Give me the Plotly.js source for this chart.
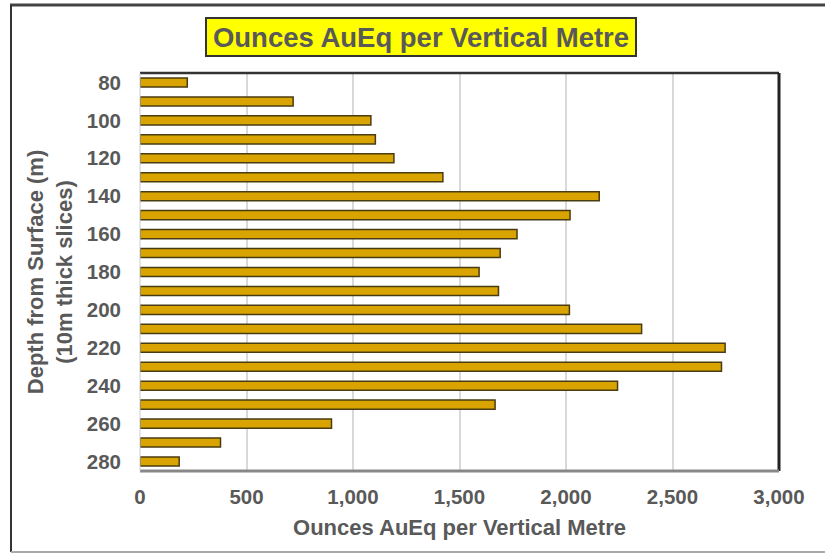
<!DOCTYPE html>
<html>
<head>
<meta charset="utf-8">
<script src="https://cdn.plot.ly/plotly-3.0.1.min.js"></script>
<style>html,body{margin:0;padding:0;background:#fff;}#chart{width:825px;height:554px;}</style>
</head>
<body>
<div id="chart"></div>
<script>
// Data
const depths = [80, 90, 100, 110, 120, 130, 140, 150, 160, 170, 180, 190, 200, 210, 220, 230, 240, 250, 260, 270, 280];
const ouncesPerMetre = [222, 719, 1084, 1105, 1192, 1422, 2156, 2019, 1770, 1691, 1592, 1683, 2016, 2355, 2747, 2730, 2242, 1667, 899, 378, 184];
const depthTicks = [80, 100, 120, 140, 160, 180, 200, 220, 240, 260, 280];
const xTicks = [0, 500, 1000, 1500, 2000, 2500, 3000];
const titleText = "Ounces AuEq per Vertical Metre";
const xTitle = "Ounces AuEq per Vertical Metre";
const yTitle = "Depth from Surface (m)<br>(10m thick slices)";

const FONT = "Liberation Sans, Arial, sans-serif";
const GREY = "#595959";

// pixel helpers (plot area: left 140, right 779, top 73, bottom 471)
const L = 140, R = 779, T = 73, B = 471;
const px = x => (x - L) / (R - L);
const py = y => (B - y) / (B - T);

const trace = {
  type: "bar",
  orientation: "h",
  x: ouncesPerMetre,
  y: depths,
  marker: { color: "#d9a400", line: { color: "#4a3c12", width: 1.5 } },
  hoverinfo: "x+y"
};

const layout = {
  width: 825,
  height: 554,
  margin: { l: L, r: 825 - R, t: T, b: 554 - B, pad: 0 },
  paper_bgcolor: "#ffffff",
  plot_bgcolor: "#ffffff",
  showlegend: false,
  bargap: 0.52,
  font: { family: FONT, color: GREY },
  xaxis: {
    range: [0, 3000],
    tickvals: xTicks,
    tickformat: ",",
    showgrid: true,
    gridcolor: "#d9d9d9",
    gridwidth: 2,
    zeroline: false,
    showline: false,
    ticks: "",
    ticklabelstandoff: 11,
    tickfont: { family: FONT, size: 20.5, color: GREY, weight: "bold" },
    title: { text: xTitle, font: { family: FONT, size: 22, color: GREY, weight: "bold" }, standoff: 13 }
  },
  yaxis: {
    range: [285, 75],
    tickvals: depthTicks,
    showgrid: false,
    zeroline: false,
    showline: false,
    ticks: "",
    ticklabelstandoff: 18,
    tickfont: { family: FONT, size: 20.5, color: GREY, weight: "bold" },
    title: { text: yTitle, font: { family: FONT, size: 22, color: GREY, weight: "bold" }, standoff: 8 }
  },
  annotations: [{
    xref: "paper", yref: "paper",
    x: px(421), y: py(37),
    xanchor: "center", yanchor: "middle",
    text: "<b>" + titleText + "</b>",
    showarrow: false,
    font: { family: FONT, size: 27.5, color: GREY },
    bgcolor: "#ffff00",
    bordercolor: "#333333",
    borderwidth: 2,
    borderpad: 2,
    width: 424,
    height: 32
  }],
  shapes: [
    // plot area frame
    { type: "line", xref: "paper", yref: "paper", x0: 0, x1: 1, y0: 1, y1: 1, line: { color: "#333333", width: 2.5 } },
    { type: "line", xref: "paper", yref: "paper", x0: 1, x1: 1, y0: 0, y1: 1, line: { color: "#222222", width: 3 } },
    { type: "line", xref: "paper", yref: "paper", x0: 0, x1: 1, y0: 0, y1: 0, line: { color: "#888888", width: 3 } },
    { type: "line", xref: "paper", yref: "paper", x0: 0, x1: 0, y0: 0, y1: 1, line: { color: "#cccccc", width: 1 } },
    // outer figure border
    { type: "line", xref: "paper", yref: "paper", x0: px(10), x1: px(825), y0: py(5), y1: py(5), line: { color: "#444444", width: 3 } },
    { type: "line", xref: "paper", yref: "paper", x0: px(11), x1: px(11), y0: py(5), y1: py(552), line: { color: "#333333", width: 2 } },
    { type: "line", xref: "paper", yref: "paper", x0: px(11), x1: px(825), y0: py(552), y1: py(552), line: { color: "#aaaaaa", width: 2 } }
  ]
};

Plotly.newPlot("chart", [trace], layout, { displayModeBar: false, staticPlot: true });
</script>
</body>
</html>
